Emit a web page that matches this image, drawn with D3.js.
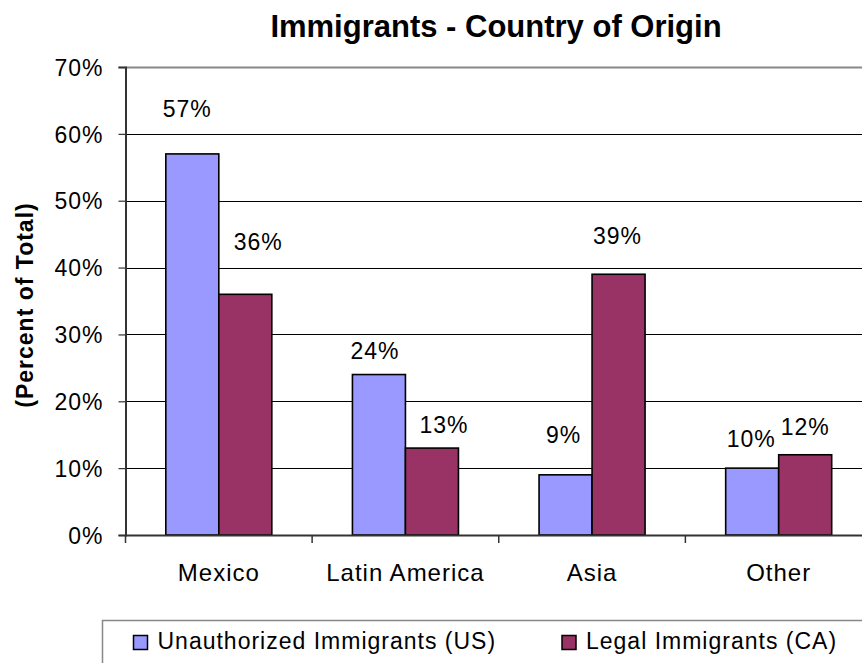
<!DOCTYPE html>
<html><head><meta charset="utf-8">
<script src="https://cdn.jsdelivr.net/npm/d3@7"></script>
<style>
body{margin:0;background:#fff;}
svg{display:block;font-family:"Liberation Sans",Arial,sans-serif;}
</style></head>
<body>
<svg id="c" width="862" height="663"></svg>
<script>
const categories = ["Mexico", "Latin America", "Asia", "Other"];
const seriesNames = ["Unauthorized Immigrants (US)", "Legal Immigrants (CA)"];
const unauthorizedUS = [0.57, 0.24, 0.09, 0.10];
const legalCA = [0.36, 0.13, 0.39, 0.12];
const yTicks = [0, 0.1, 0.2, 0.3, 0.4, 0.5, 0.6, 0.7];
const seriesColors = ["#9999FF", "#993366"];
// manual label offsets (dx, dy of label centre from bar top centre), per series
const labelOffsetsUS = [[-5, -45], [-4, -24], [-2, -40], [-1, -29]];
const labelOffsetsCA = [[13, -53], [12, -23], [-1, -39], [0, -28]];

const series = [unauthorizedUS, legalCA];
const offsets = [labelOffsetsUS, labelOffsetsCA];

const svg = d3.select("#c");
const L = 125.5, R = 872, T = 67, B = 535;

const x = d3.scaleBand().domain(categories).range([L, R]).padding(0);
const xs = d3.scaleBand().domain([0, 1]).range([x.bandwidth()*0.216, x.bandwidth()*0.784]).padding(0);
const y = d3.scaleLinear().domain([0, 0.7]).range([B, T]);

// title
svg.append("text").attr("x", 496).attr("y", 37).attr("text-anchor", "middle")
  .attr("font-size", 31).attr("font-weight", "bold").text("Immigrants - Country of Origin");

// gridlines
svg.append("g").selectAll("line").data(yTicks.filter(d => d > 0)).join("line")
  .attr("x1", L).attr("x2", R).attr("y1", d => Math.round(y(d)) + 0.5).attr("y2", d => Math.round(y(d)) + 0.5)
  .attr("stroke", d => d === 0.7 ? "#888" : "#000").attr("stroke-width", d => d === 0.7 ? 2 : 1.2);

// bars
const g = svg.append("g");
categories.forEach((c, i) => {
  series.forEach((s, j) => {
    g.append("rect")
      .attr("x", x(c) + xs(j)).attr("y", y(s[i]))
      .attr("width", xs.bandwidth()).attr("height", B - y(s[i]))
      .attr("fill", seriesColors[j]).attr("stroke", "#000").attr("stroke-width", 1.6);
  });
});

// y axis
const yAxis = d3.axisLeft(y).tickValues(yTicks).tickFormat(d3.format(".0%")).tickSize(7).tickPadding(15);
const ya = svg.append("g").attr("transform", `translate(${L},0)`).call(yAxis);
ya.select(".domain").attr("stroke", "#333").attr("stroke-width", 2);
ya.selectAll(".tick line").attr("stroke", "#333").attr("stroke-width", 1.2);
ya.selectAll(".tick text").attr("font-size", 23).attr("letter-spacing", 1).attr("fill", "#000")
  .attr("font-family", "Liberation Sans, Arial, sans-serif").attr("dy", "0.36em");

// x axis
const xa = svg.append("g").attr("transform", `translate(0,${B})`)
  .call(d3.axisBottom(x).tickSize(0).tickPadding(29));
xa.select(".domain").attr("stroke", "#333").attr("stroke-width", 2);
xa.selectAll(".tick text").attr("font-size", 24).attr("letter-spacing", 1).attr("fill", "#000")
  .attr("font-family", "Liberation Sans, Arial, sans-serif");
svg.append("g").selectAll("line").data(categories.concat(["__end"])).join("line")
  .attr("x1", (d, i) => L + i * x.step()).attr("x2", (d, i) => L + i * x.step())
  .attr("y1", B).attr("y2", B + 8).attr("stroke", "#333").attr("stroke-width", 1.5);

// data labels
categories.forEach((c, i) => {
  series.forEach((s, j) => {
    const cx = x(c) + xs(j) + xs.bandwidth() / 2 + offsets[j][i][0];
    const cy = y(s[i]) + offsets[j][i][1];
    svg.append("text").attr("x", cx).attr("y", cy).attr("dy", "0.36em")
      .attr("text-anchor", "middle").attr("font-size", 23).attr("letter-spacing", 1)
      .text(d3.format(".0%")(s[i]));
  });
});

// y title
svg.append("text").attr("transform", `translate(33,${(T + B) / 2 + 4}) rotate(-90)`)
  .attr("text-anchor", "middle").attr("font-size", 23).attr("font-weight", "bold").attr("letter-spacing", 1)
  .text("(Percent of Total)");

// legend
const lg = svg.append("g");
lg.append("rect").attr("x", 102.5).attr("y", 620.5).attr("width", 800).attr("height", 80)
  .attr("fill", "none").attr("stroke", "#888").attr("stroke-width", 1.5);
const legX = [133.5, 562];
seriesNames.forEach((n, j) => {
  lg.append("rect").attr("x", legX[j]).attr("y", 635.5).attr("width", 14).attr("height", 14)
    .attr("fill", seriesColors[j]).attr("stroke", "#000").attr("stroke-width", 1.5);
  lg.append("text").attr("x", legX[j] + 24).attr("y", 649).attr("font-size", 23).attr("letter-spacing", 1)
    .text(n);
});
</script>
</body></html>
